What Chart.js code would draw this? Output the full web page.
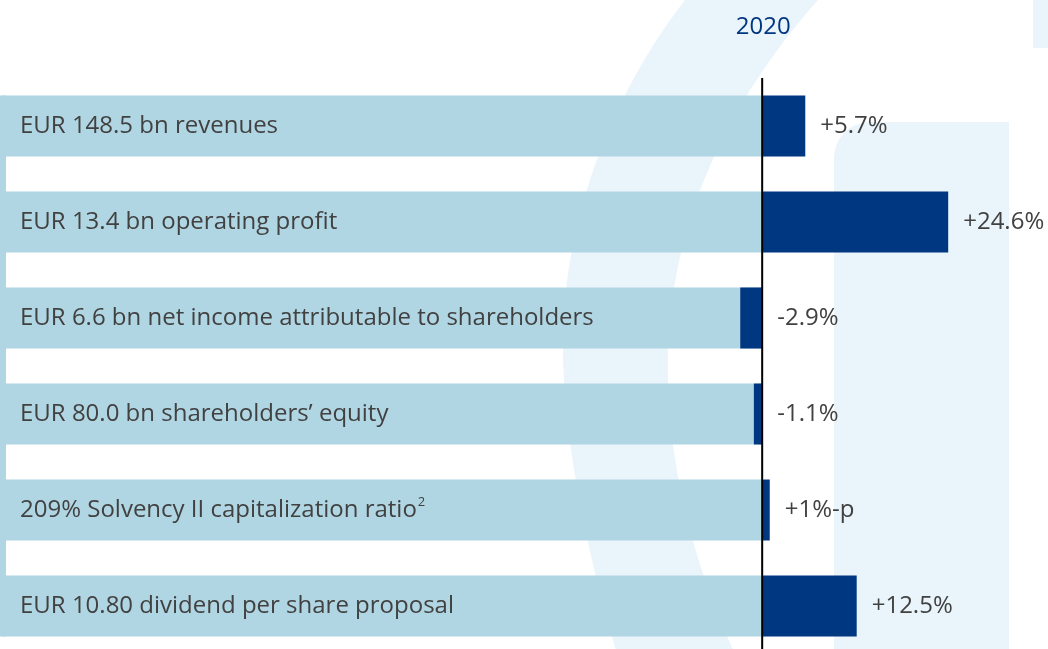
<!DOCTYPE html>
<html>
<head>
<meta charset="utf-8">
<script src="https://cdn.jsdelivr.net/npm/chart.js@4"></script>
<style>
  html, body { margin: 0; padding: 0; background: #fff; }
  .wrap { width: 1048px; height: 649px; overflow: hidden; position: relative; }
  canvas { display: block; }
</style>
</head>
<body>
<div class="wrap">
  <canvas id="kpiChart" width="1048" height="654"></canvas>
</div>
<script>
const categories = [
  "EUR 148.5 bn revenues",
  "EUR 13.4 bn operating profit",
  "EUR 6.6 bn net income attributable to shareholders",
  "EUR 80.0 bn shareholders\u2019 equity",
  "209% Solvency II capitalization ratio",
  "EUR 10.80 dividend per share proposal"
];
const footnotes = ["", "", "", "", "2", ""];
const changes = [5.7, 24.6, -2.9, -1.1, 1, 12.5];
const changeLabels = ["+5.7%", "+24.6%", "-2.9%", "-1.1%", "+1%-p", "+12.5%"];
const yearLabel = "2020";

const axisMin = -100.8;
const axisMax = 37.8;

const darkBlue = "#003781";
const lightBar = "#b1d6e3";
const decor = "#eaf5fb";
const textColor = "#414141";
const fontFamily = "'Open Sans', sans-serif";

// light backdrop bars run from the left edge of the axis to zero
const backdrop = categories.map(() => [axisMin, 0]);

const decorPlugin = {
  id: "decor",
  beforeDraw(chart) {
    const c = chart.ctx;
    c.save();
    c.fillStyle = "#ffffff";
    c.fillRect(0, 0, chart.width, chart.height);
    c.fillStyle = decor;
    // big curved band
    c.beginPath();
    c.moveTo(685, 0);
    c.bezierCurveTo(600, 110, 555, 250, 564, 380);
    c.bezierCurveTo(570, 480, 595, 580, 619, 660);
    c.lineTo(738, 660);
    c.bezierCurveTo(690, 560, 665, 450, 668, 352);
    c.bezierCurveTo(672, 230, 720, 110, 818, 0);
    c.closePath();
    c.fill();
    // right rounded column
    c.beginPath();
    c.roundRect(834, 122, 175, 560, [36, 0, 0, 0]);
    c.fill();
    // top right block
    c.fillRect(1033, 0, 15, 48);
    c.restore();
  }
};

const labelPlugin = {
  id: "labels",
  afterDatasetsDraw(chart) {
    const c = chart.ctx;
    const x = chart.scales.x;
    const y = chart.scales.y;
    const zero = x.getPixelForValue(0);
    const area = chart.chartArea;
    const meta = chart.getDatasetMeta(1);

    c.save();
    // thin strip at the left edge joining the backdrop bars
    const first = meta.data[0];
    const last = meta.data[meta.data.length - 1];
    c.fillStyle = lightBar;
    c.fillRect(0, first.y - first.height / 2, 6, (last.y + last.height / 2) - (first.y - first.height / 2));

    // zero line
    c.strokeStyle = "#000";
    c.lineWidth = 2;
    c.beginPath();
    c.moveTo(zero, area.top);
    c.lineTo(zero, chart.height);
    c.stroke();

    c.textBaseline = "middle";
    categories.forEach((label, i) => {
      const cy = y.getPixelForValue(i);
      c.fillStyle = textColor;
      c.font = "24px " + fontFamily;
      c.textAlign = "left";
      c.fillText(label, area.left + 20, cy);
      if (footnotes[i]) {
        const w = c.measureText(label).width;
        c.font = "13px " + fontFamily;
        c.fillText(footnotes[i], area.left + 21 + w, cy - 8);
        c.font = "24px " + fontFamily;
      }
      const end = Math.max(x.getPixelForValue(changes[i]), zero);
      c.fillText(changeLabels[i], end + 15, cy);
    });

    c.fillStyle = darkBlue;
    c.textAlign = "center";
    c.font = "24px " + fontFamily;
    c.fillText(yearLabel, zero + 1, 27);
    c.restore();
  }
};

new Chart(document.getElementById("kpiChart"), {
  type: "bar",
  data: {
    labels: categories,
    datasets: [
      {
        data: changes,
        backgroundColor: darkBlue,
        grouped: false,
        barPercentage: 1,
        categoryPercentage: 0.635
      },
      {
        data: backdrop,
        backgroundColor: lightBar,
        grouped: false,
        barPercentage: 1,
        categoryPercentage: 0.635,
        borderRadius: { topLeft: 3, bottomLeft: 3, topRight: 0, bottomRight: 0 },
        borderSkipped: false
      }
    ]
  },
  options: {
    indexAxis: "y",
    responsive: false,
    animation: false,
    layout: { padding: { top: 78, left: 0, right: 0, bottom: 0 } },
    plugins: {
      legend: { display: false },
      tooltip: { enabled: false }
    },
    scales: {
      x: {
        min: axisMin,
        max: axisMax,
        display: false,
        grid: { display: false }
      },
      y: {
        display: false,
        grid: { display: false }
      }
    }
  },
  plugins: [decorPlugin, labelPlugin]
});
</script>
</body>
</html>
